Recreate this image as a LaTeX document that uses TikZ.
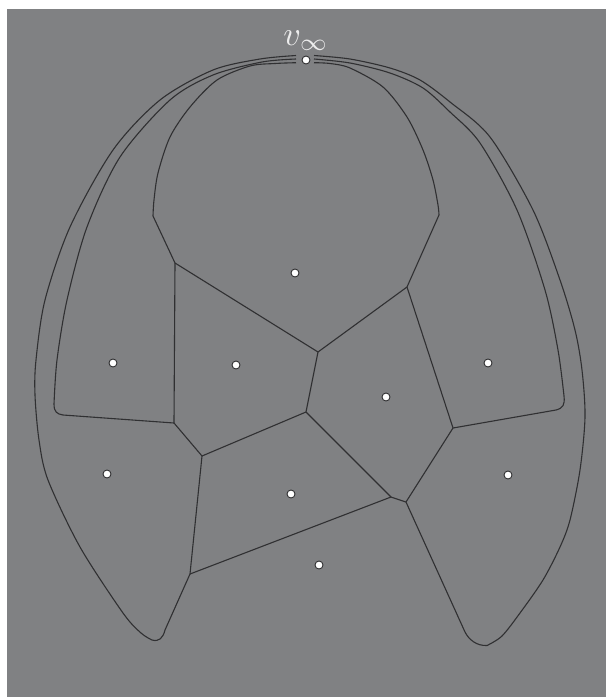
\documentclass[tikz,border=0pt]{standalone}
\definecolor{bgc}{RGB}{128,129,131}
\definecolor{linec}{RGB}{48,48,50}
\definecolor{labelc}{RGB}{236,236,236}
\begin{document}
\begin{tikzpicture}[x=1pt,y=-1pt,
  edge/.style={draw=linec, line width=1.1pt, line join=round},
  site/.style={circle, fill=white, draw=linec, line width=0.9pt, inner sep=0pt, minimum size=8pt}]
\useasboundingbox (0,0) rectangle (606,697);
\fill[white] (0,0) rectangle (606,697);
\fill[bgc] (7,9) rectangle (606,697);
% vertices
\coordinate (A) at (175,263);
\coordinate (B) at (318,352);
\coordinate (C) at (407,287);
\coordinate (D) at (174,423);
\coordinate (F) at (202,456);
\coordinate (G) at (306,412);
\coordinate (H) at (391,497);
\coordinate (I) at (406,502);
\coordinate (J) at (453,428);
\coordinate (E) at (190,574);
% straight edges
\draw[edge] (A) -- (B);
\draw[edge] (B) -- (C);
\draw[edge] (A) -- (D);
\draw[edge] (D) -- (F);
\draw[edge] (F) -- (G);
\draw[edge] (G) -- (B);
\draw[edge] (C) -- (J);
\draw[edge] (J) -- (I);
\draw[edge] (I) -- (H);
\draw[edge] (H) -- (G);
\draw[edge] (F) -- (E);
\draw[edge] (E) -- (H);
% edges to v_infinity, left side
\draw[edge] plot[smooth] coordinates {(296,62.7) (275,63.5) (250,66) (217,80) (190,107) (170,137) (158,173) (154,200) (153,216)} -- (A);
\draw[edge] plot[smooth] coordinates {(296,59) (262,62) (213,75) (170,100) (120,157) (87,227) (67,300) (57,360) (54,404)}
  .. controls (54,412) and (57,414) .. (63,415) -- (D);
\draw[edge] plot[smooth] coordinates {(296,55.5) (260,59) (213,70) (160,100) (113,150) (70,227) (45,300) (36,360) (35,395) (39,440) (48,480) (80,547) (123,613) (141,633) (152,640)}
  .. controls (159,642) and (163,638) .. (165,630) -- (E);
% right side
\draw[edge] plot[smooth] coordinates {(314,62.7) (330,63.5) (350,68) (383,87) (407,117) (423,150) (433,180) (438,205) (439,215)} -- (C);
\draw[edge] plot[smooth] coordinates {(314,59) (350,63) (390,73) (423,88) (450,112) (480,143) (517,210) (545,290) (558,350) (564,396)}
  .. controls (565,405) and (563,408) .. (556,410) -- (J);
\draw[edge] plot[smooth] coordinates {(314,55.5) (350,59) (390,68) (420,80) (450,102) (490,137) (533,210) (560,280) (575,330) (582,370) (585,417) (580,470) (570,520) (560,547) (543,580) (520,613) (502,636) (487,645.5)}
  .. controls (477,646) and (469,640) .. (465,632) -- (I);
% sites
\node[site] (vinf) at (306,60) {};
\node[text=labelc, scale=3.4, anchor=base] (lab) at (306,45) {$v_\infty$};
\node[site] (s1) at (295,273) {};
\node[site] (s2) at (113,363) {};
\node[site] (s3) at (236,365) {};
\node[site] (s4) at (386,397) {};
\node[site] (s5) at (488,363) {};
\node[site] (s6) at (107,474) {};
\node[site] (s7) at (508,475) {};
\node[site] (s8) at (291,494) {};
\node[site] (s9) at (319,565) {};
\end{tikzpicture}
\end{document}
